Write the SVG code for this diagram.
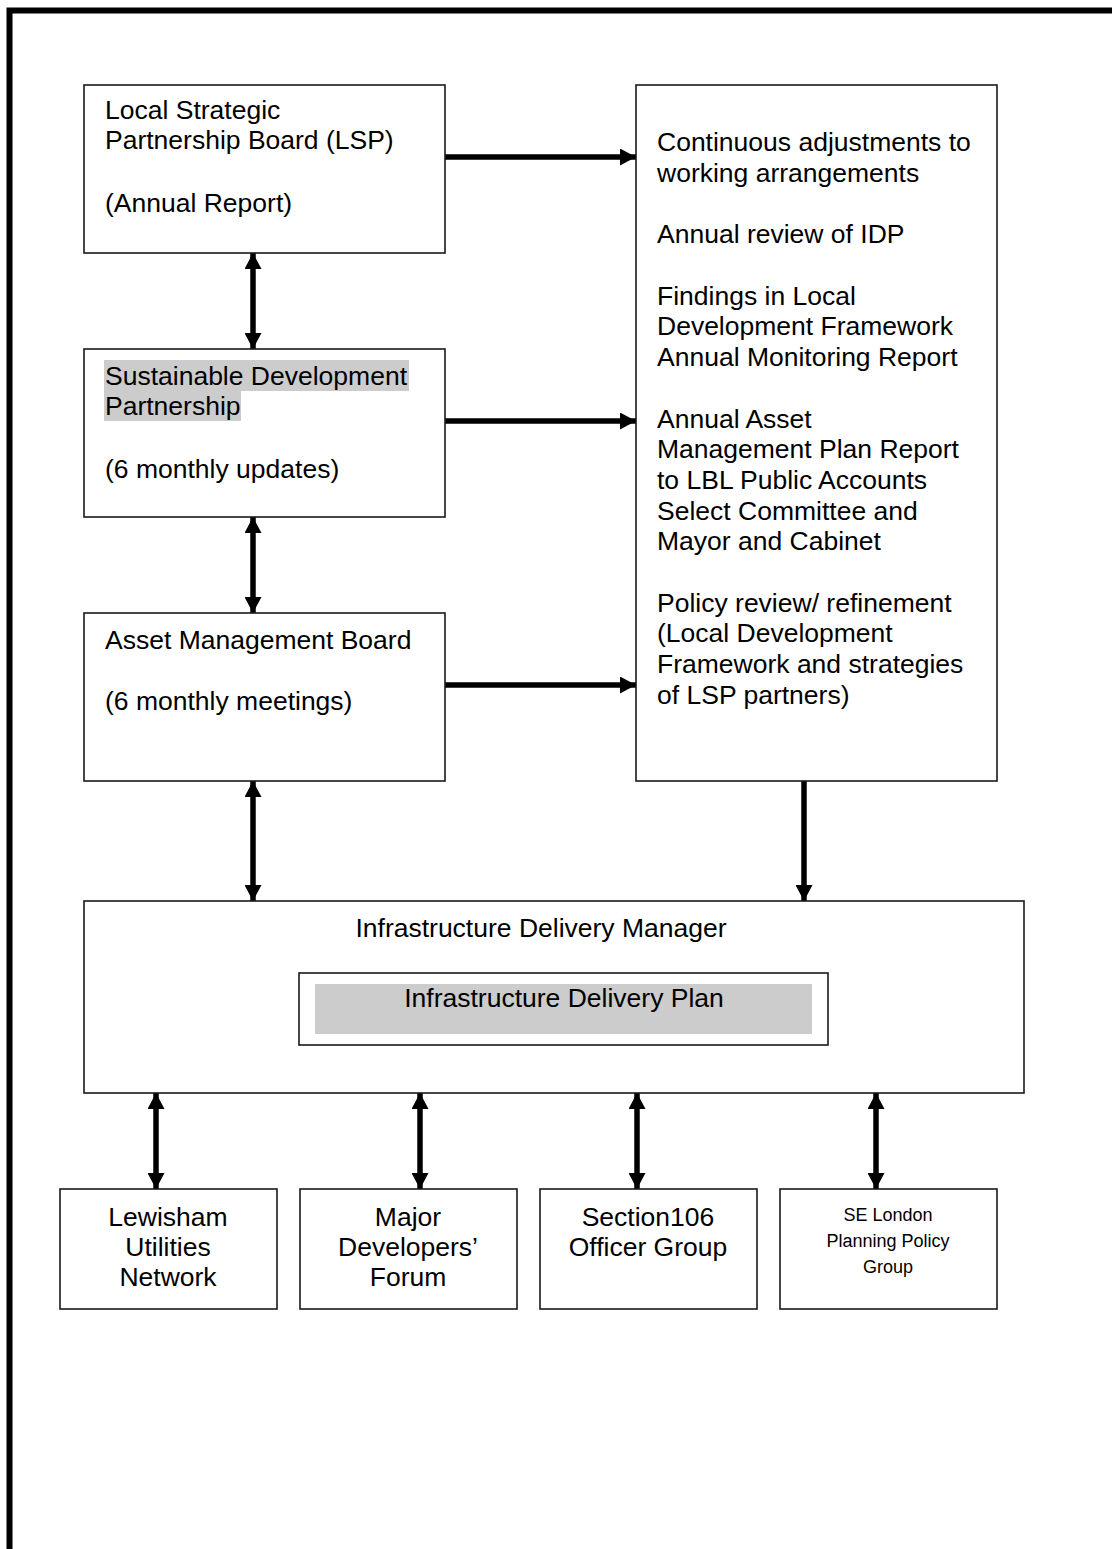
<svg xmlns="http://www.w3.org/2000/svg" width="1112" height="1549" viewBox="0 0 1112 1549">
<defs>
<style>
.box{fill:#fff;stroke:#1a1a1a;stroke-width:1.6}
.t{font-family:"Liberation Sans",Arial,sans-serif;font-size:26.5px;fill:#000}
.s{font-family:"Liberation Sans",Arial,sans-serif;font-size:18px;fill:#000}
.c{text-anchor:middle}
.hl{fill:#cccccc}
.conn{stroke:#000;stroke-width:5.5;fill:none}
</style>
<marker id="ah" viewBox="0 0 16 17" refX="16" refY="8.5" markerWidth="16" markerHeight="17" markerUnits="userSpaceOnUse" orient="auto-start-reverse">
<path d="M0,0 L16,8.5 L0,17 Z" fill="#000"/>
</marker>
</defs>
<rect width="1112" height="1549" fill="#fff"/>
<rect id="frame" x="9.5" y="10.5" width="1300" height="1700" fill="none" stroke="#000" stroke-width="6"/>

<g id="connectors">
<line class="conn" x1="445" y1="157" x2="636" y2="157" marker-end="url(#ah)"/>
<line class="conn" x1="445" y1="421" x2="636" y2="421" marker-end="url(#ah)"/>
<line class="conn" x1="445" y1="685" x2="636" y2="685" marker-end="url(#ah)"/>
<line class="conn" x1="253" y1="253" x2="253" y2="349" marker-start="url(#ah)" marker-end="url(#ah)"/>
<line class="conn" x1="253" y1="517" x2="253" y2="613" marker-start="url(#ah)" marker-end="url(#ah)"/>
<line class="conn" x1="253" y1="781" x2="253" y2="901" marker-start="url(#ah)" marker-end="url(#ah)"/>
<line class="conn" x1="804" y1="781" x2="804" y2="901" marker-end="url(#ah)"/>
<line class="conn" x1="156" y1="1093" x2="156" y2="1189" marker-start="url(#ah)" marker-end="url(#ah)"/>
<line class="conn" x1="420" y1="1093" x2="420" y2="1189" marker-start="url(#ah)" marker-end="url(#ah)"/>
<line class="conn" x1="637" y1="1093" x2="637" y2="1189" marker-start="url(#ah)" marker-end="url(#ah)"/>
<line class="conn" x1="876" y1="1093" x2="876" y2="1189" marker-start="url(#ah)" marker-end="url(#ah)"/>
</g>

<g id="lsp">
<rect class="box" x="84" y="85" width="361" height="168"/>
<text class="t" x="105" y="119">Local Strategic</text>
<text class="t" x="105" y="149">Partnership Board (LSP)</text>
<text class="t" x="105" y="212">(Annual Report)</text>
</g>

<g id="sdp">
<rect class="box" x="84" y="349" width="361" height="168"/>
<rect class="hl" x="104" y="360" width="305" height="31"/>
<rect class="hl" x="104" y="391" width="137" height="30"/>
<text class="t" x="105" y="385">Sustainable Development</text>
<text class="t" x="105" y="415">Partnership</text>
<text class="t" x="105" y="478">(6 monthly updates)</text>
</g>

<g id="amb">
<rect class="box" x="84" y="613" width="361" height="168"/>
<text class="t" x="105" y="649">Asset Management Board</text>
<text class="t" x="105" y="710">(6 monthly meetings)</text>
</g>

<g id="outcomes">
<rect class="box" x="636" y="85" width="361" height="696"/>
<text class="t" x="657" y="151">Continuous adjustments to</text>
<text class="t" x="657" y="182">working arrangements</text>
<text class="t" x="657" y="243">Annual review of IDP</text>
<text class="t" x="657" y="305">Findings in Local</text>
<text class="t" x="657" y="335">Development Framework</text>
<text class="t" x="657" y="366">Annual Monitoring Report</text>
<text class="t" x="657" y="428">Annual Asset</text>
<text class="t" x="657" y="458">Management Plan Report</text>
<text class="t" x="657" y="489">to LBL Public Accounts</text>
<text class="t" x="657" y="520">Select Committee and</text>
<text class="t" x="657" y="550">Mayor and Cabinet</text>
<text class="t" x="657" y="612">Policy review/ refinement</text>
<text class="t" x="657" y="642">(Local Development</text>
<text class="t" x="657" y="673">Framework and strategies</text>
<text class="t" x="657" y="704">of LSP partners)</text>
</g>

<g id="idm">
<rect class="box" x="84" y="901" width="940" height="192"/>
<text class="t c" x="541" y="937">Infrastructure Delivery Manager</text>
</g>

<g id="idp">
<rect class="box" x="299" y="973" width="529" height="72"/>
<rect class="hl" x="315" y="984" width="497" height="50"/>
<text class="t c" x="564" y="1007">Infrastructure Delivery Plan</text>
</g>

<g id="lun">
<rect class="box" x="60" y="1189" width="217" height="120"/>
<text class="t c" x="168" y="1226">Lewisham</text>
<text class="t c" x="168" y="1256">Utilities</text>
<text class="t c" x="168" y="1286">Network</text>
</g>

<g id="mdf">
<rect class="box" x="300" y="1189" width="217" height="120"/>
<text class="t c" x="408" y="1226">Major</text>
<text class="t c" x="408" y="1256">Developers’</text>
<text class="t c" x="408" y="1286">Forum</text>
</g>

<g id="s106">
<rect class="box" x="540" y="1189" width="217" height="120"/>
<text class="t c" x="648" y="1226">Section106</text>
<text class="t c" x="648" y="1256">Officer Group</text>
</g>

<g id="sel">
<rect class="box" x="780" y="1189" width="217" height="120"/>
<text class="s c" x="888" y="1221">SE London</text>
<text class="s c" x="888" y="1247">Planning Policy</text>
<text class="s c" x="888" y="1273">Group</text>
</g>
</svg>
